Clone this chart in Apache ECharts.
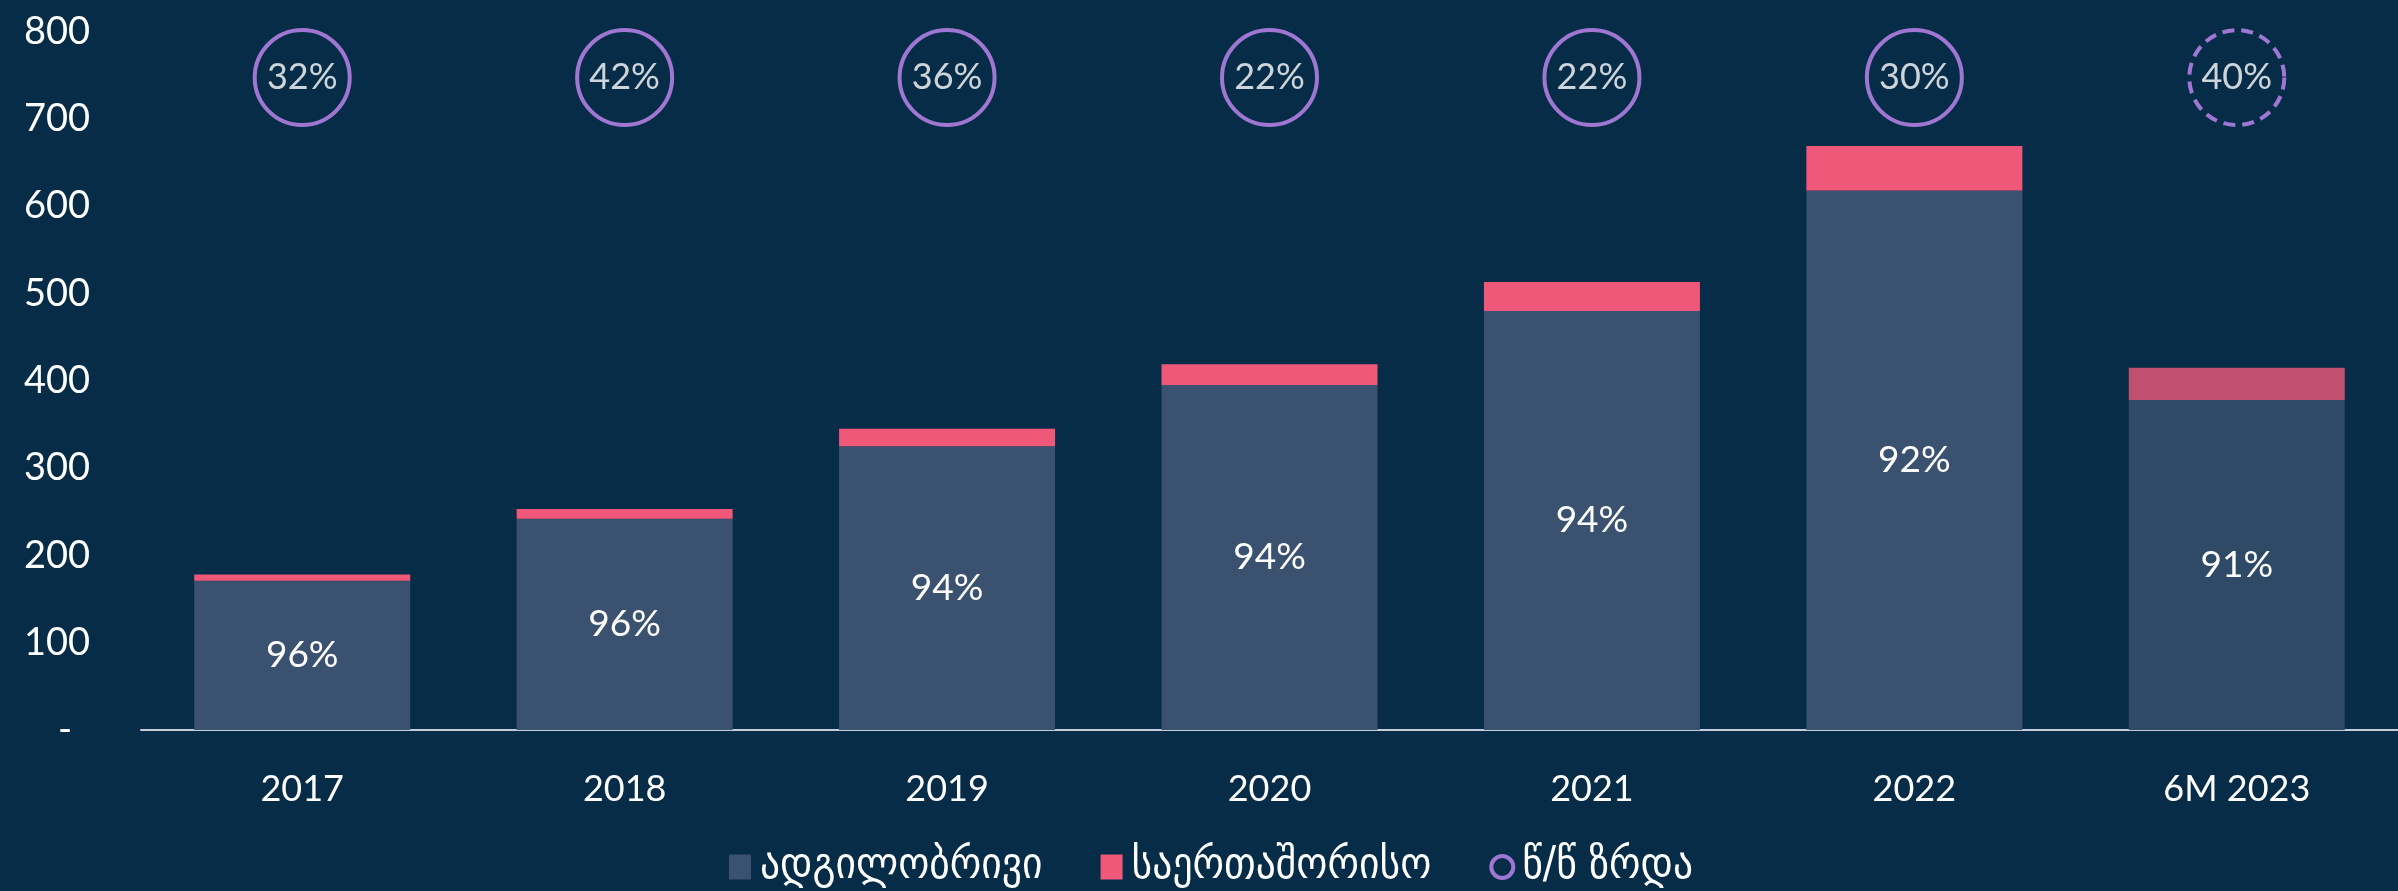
<!DOCTYPE html>
<html>
<head>
<meta charset="utf-8">
<script src="https://cdn.jsdelivr.net/npm/echarts@6/dist/echarts.min.js"></script>
<style>
    html, body { margin: 0; padding: 0; background: #072c48; }
    #chart { width: 2398px; height: 891px; }
</style>
</head>
<body>
<div id="chart"></div>
<script>
// data
const categories = ['2017', '2018', '2019', '2020', '2021', '2022', '6M 2023'];
const domestic = [171, 242, 325, 395, 480, 618, 378];
const international = [7, 11, 20, 24, 33, 51, 37];
const domesticShare = [96, 96, 94, 94, 94, 92, 91];
const growth = [32, 42, 36, 22, 22, 30, 40];
const yTicks = [0, 100, 200, 300, 400, 500, 600, 700, 800];

const seriesNames = ['ადგილობრივი', 'საერთაშორისო', 'წ/წ ზრდა'];

// colors
const blue = '#3b5170';
const pink = '#f0587a';
const purple = '#c68af5';
const lastBlue = '#2f4a67';
const lastPink = '#c0506f';

const numFont = 'Lato, "Open Sans", sans-serif';
const geoFont = '"DejaVu Sans Condensed", "DejaVu Sans", sans-serif';

const lastIdx = categories.length - 1;

// circle row height on hidden axis (0..1)
const circleLevel = 0.934;

const chart = echarts.init(document.getElementById('chart'));

const legendText = {
    color: '#ffffff',
    fontFamily: geoFont,
    fontSize: 44,
    padding: [0, 0, 0, 4]
};

const option = {
    backgroundColor: '#072c48',
    animation: false,
    grid: {
        left: 141,
        width: 2263,
        top: 31.5,
        bottom: 161
    },
    legend: {
        left: 724,
        top: 840,
        itemWidth: 22,
        itemHeight: 25,
        itemGap: 58,
        textStyle: legendText,
        data: [
            { name: seriesNames[0], icon: 'rect', itemStyle: { color: blue } },
            {
                name: seriesNames[1],
                icon: 'rect',
                itemStyle: { color: pink },
                // a bit more room before the ring marker
                textStyle: Object.assign({}, legendText, { padding: [0, 16, 0, 4] })
            },
            {
                name: seriesNames[2],
                icon: 'circle',
                itemStyle: { color: 'transparent', borderColor: purple, borderWidth: 4 }
            }
        ]
    },
    xAxis: {
        type: 'category',
        data: categories,
        axisLine: { lineStyle: { color: '#c3ccd8', width: 2 } },
        axisTick: { show: false },
        axisLabel: {
            color: '#ffffff',
            fontFamily: numFont,
            fontSize: 36,
            margin: 41
        }
    },
    yAxis: [
        {
            type: 'value',
            min: yTicks[0],
            max: yTicks[yTicks.length - 1],
            interval: 100,
            axisLine: { show: false },
            axisTick: { show: false },
            splitLine: { show: false },
            axisLabel: {
                color: '#ffffff',
                fontFamily: numFont,
                fontSize: 38,
                margin: 51,
                formatter: function (v) {
                    return v === 0 ? '{d|-}' : String(v);
                },
                rich: {
                    d: { color: '#ffffff', fontFamily: numFont, fontSize: 38, padding: [0, 18, 0, 0] }
                }
            }
        },
        {
            type: 'value',
            min: 0,
            max: 1,
            show: false
        }
    ],
    series: [
        {
            name: seriesNames[0],
            type: 'bar',
            stack: 'total',
            barWidth: 216,
            itemStyle: { color: blue },
            label: {
                show: true,
                position: 'inside',
                color: '#ffffff',
                fontFamily: numFont,
                fontSize: 37,
                formatter: function (p) {
                    return domesticShare[p.dataIndex] + '%';
                }
            },
            data: domestic.map(function (v, i) {
                return i === lastIdx ? { value: v, itemStyle: { color: lastBlue } } : v;
            })
        },
        {
            name: seriesNames[1],
            type: 'bar',
            stack: 'total',
            barWidth: 216,
            itemStyle: { color: pink },
            data: international.map(function (v, i) {
                return i === lastIdx ? { value: v, itemStyle: { color: lastPink } } : v;
            })
        },
        {
            name: seriesNames[2],
            type: 'scatter',
            yAxisIndex: 1,
            symbol: 'circle',
            symbolSize: 95,
            itemStyle: {
                color: 'rgba(0,0,0,0)',
                borderColor: purple,
                borderWidth: 4
            },
            label: {
                show: true,
                position: 'inside',
                color: '#ffffff',
                fontFamily: numFont,
                fontSize: 36,
                formatter: function (p) {
                    return growth[p.dataIndex] + '%';
                }
            },
            data: growth.map(function (g, i) {
                const item = { value: [categories[i], circleLevel] };
                // current period ring is dashed
                if (i === lastIdx) {
                    item.itemStyle = { borderType: [12, 7] };
                }
                return item;
            })
        }
    ]
};

chart.setOption(option);
</script>
</body>
</html>
